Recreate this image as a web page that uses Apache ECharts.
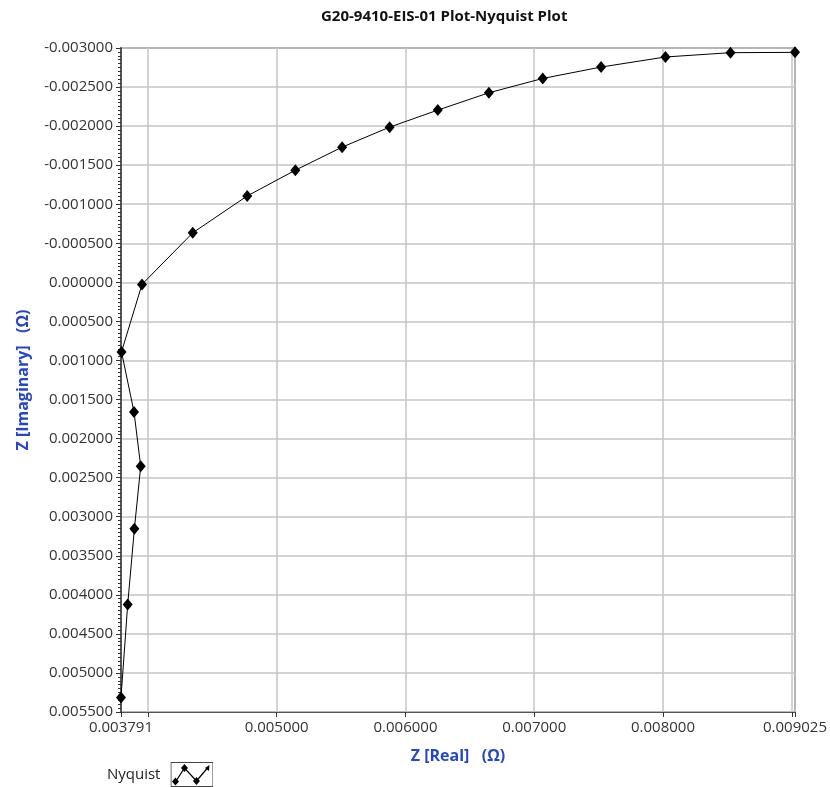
<!DOCTYPE html>
<html>
<head>
<meta charset="utf-8">
<script src="https://cdn.jsdelivr.net/npm/echarts@6/dist/echarts.min.js"></script>
<style>
html,body{margin:0;padding:0;background:#fff;}
#chart{width:830px;height:787px;}
</style>
</head>
<body>
<div id="chart"></div>
<script>
// Nyquist data
const zReal = [0.009025, 0.008524, 0.008019, 0.007519, 0.007066, 0.006648, 0.006251, 0.005877, 0.005508, 0.005145, 0.004771, 0.004348, 0.003954, 0.003795, 0.003892, 0.003944, 0.003895, 0.003843, 0.003791];
const zImag = [-0.002944, -0.002940, -0.002885, -0.002756, -0.002610, -0.002427, -0.002205, -0.001987, -0.001731, -0.001436, -0.001106, -0.000634, 0.000026, 0.000890, 0.001659, 0.002355, 0.003154, 0.004124, 0.005313];
const seriesName = 'Nyquist';
const titleText = 'G20-9410-EIS-01 Plot-Nyquist Plot';
const xName = 'Z [Real]   (\u03A9)';
const yName = 'Z [Imaginary]   (\u03A9)';
const xHiddenTicks = [0.004, 0.009];

const points = zReal.map((x, i) => [x, zImag[i]]);

const iconSvg = '<svg xmlns="http://www.w3.org/2000/svg" width="43" height="25" viewBox="0 0 43 25">' +
  '<rect x="0.5" y="0.5" width="42" height="24" fill="#fff" stroke="#444" stroke-width="1"/>' +
  '<polyline points="5,20 14,6 26,19 37,6" fill="none" stroke="#000" stroke-width="1.2"/>' +
  '<path d="M5,15.5 L8.5,19.5 L5,23.5 L1.5,19.5Z M14,2 L17.5,6 L14,10 L10.5,6Z M26,15 L29.5,19 L26,23 L22.5,19Z" fill="#000"/>' +
  '<path d="M39,3 L38.5,9 L34.5,6Z" fill="#000"/>' +
  '</svg>';
const iconUri = 'image://data:image/svg+xml;charset=utf-8,' + encodeURIComponent(iconSvg);

const chart = echarts.init(document.getElementById('chart'), null, {renderer: 'canvas'});
const fam = '"Open Sans", "Noto Sans", sans-serif';
chart.setOption({
  animation: false,
  backgroundColor: '#fff',
  title: {
    text: titleText,
    left: 316,
    top: 4,
    textStyle: {fontFamily: fam, fontSize: 15, fontWeight: 'bold', color: '#111'}
  },
  legend: {
    data: [{name: seriesName, icon: iconUri}],
    left: 107,
    top: 762,
    padding: 0,
    align: 'right',
    itemWidth: 43,
    itemHeight: 25,
    itemGap: 10,
    textStyle: {fontFamily: fam, fontSize: 15, color: '#222', padding: [0, 5, 0, 0]}
  },
  grid: {
    left: 121, right: 32, top: 48, bottom: 75,
    show: true, borderColor: '#666', borderWidth: 1.5, backgroundColor: '#fff'
  },
  xAxis: {
    type: 'value',
    min: 0.003791,
    max: 0.009025,
    splitNumber: 5,
    name: xName,
    nameLocation: 'middle',
    nameGap: 36,
    nameTextStyle: {fontFamily: fam, fontSize: 16, fontWeight: 'bold', color: '#2646c8'},
    axisLine: {show: true, onZero: false, lineStyle: {color: '#555', width: 1}},
    axisTick: {show: true, inside: false, length: 5, lineStyle: {color: '#333'}},
    axisLabel: {
      fontFamily: fam, fontSize: 15, color: '#333', margin: 8,
      showMinLabel: true, showMaxLabel: true,
      formatter: function (v) {
        for (const h of xHiddenTicks) { if (Math.abs(v - h) < 1e-9) return ''; }
        return v.toFixed(6);
      }
    },
    splitLine: {show: true, lineStyle: {color: '#c4c4c4', width: 1.5}}
  },
  yAxis: {
    type: 'value',
    inverse: true,
    min: -0.003,
    max: 0.0055,
    interval: 0.0005,
    name: yName,
    nameLocation: 'middle',
    nameGap: 90,
    nameTextStyle: {fontFamily: fam, fontSize: 16, fontWeight: 'bold', color: '#2646c8'},
    axisLine: {show: true, onZero: false, lineStyle: {color: '#555', width: 2}},
    axisTick: {show: true, inside: false, length: 5, lineStyle: {color: '#333'}},
    minorTick: {show: true, splitNumber: 10, length: 3, lineStyle: {color: '#333'}},
    axisLabel: {
      fontFamily: fam, fontSize: 15, color: '#333', margin: 8,
      formatter: function (v) {
        if (Math.abs(v) < 1e-12) v = 0;
        return v.toFixed(6);
      }
    },
    splitLine: {show: true, lineStyle: {color: '#c4c4c4', width: 1.5}}
  },
  series: [{
    name: seriesName,
    type: 'line',
    data: points,
    symbol: 'diamond',
    symbolSize: [10, 12],
    showSymbol: true,
    itemStyle: {color: '#000'},
    lineStyle: {color: '#000', width: 1},
    clip: false
  }]
});
</script>
</body>
</html>
